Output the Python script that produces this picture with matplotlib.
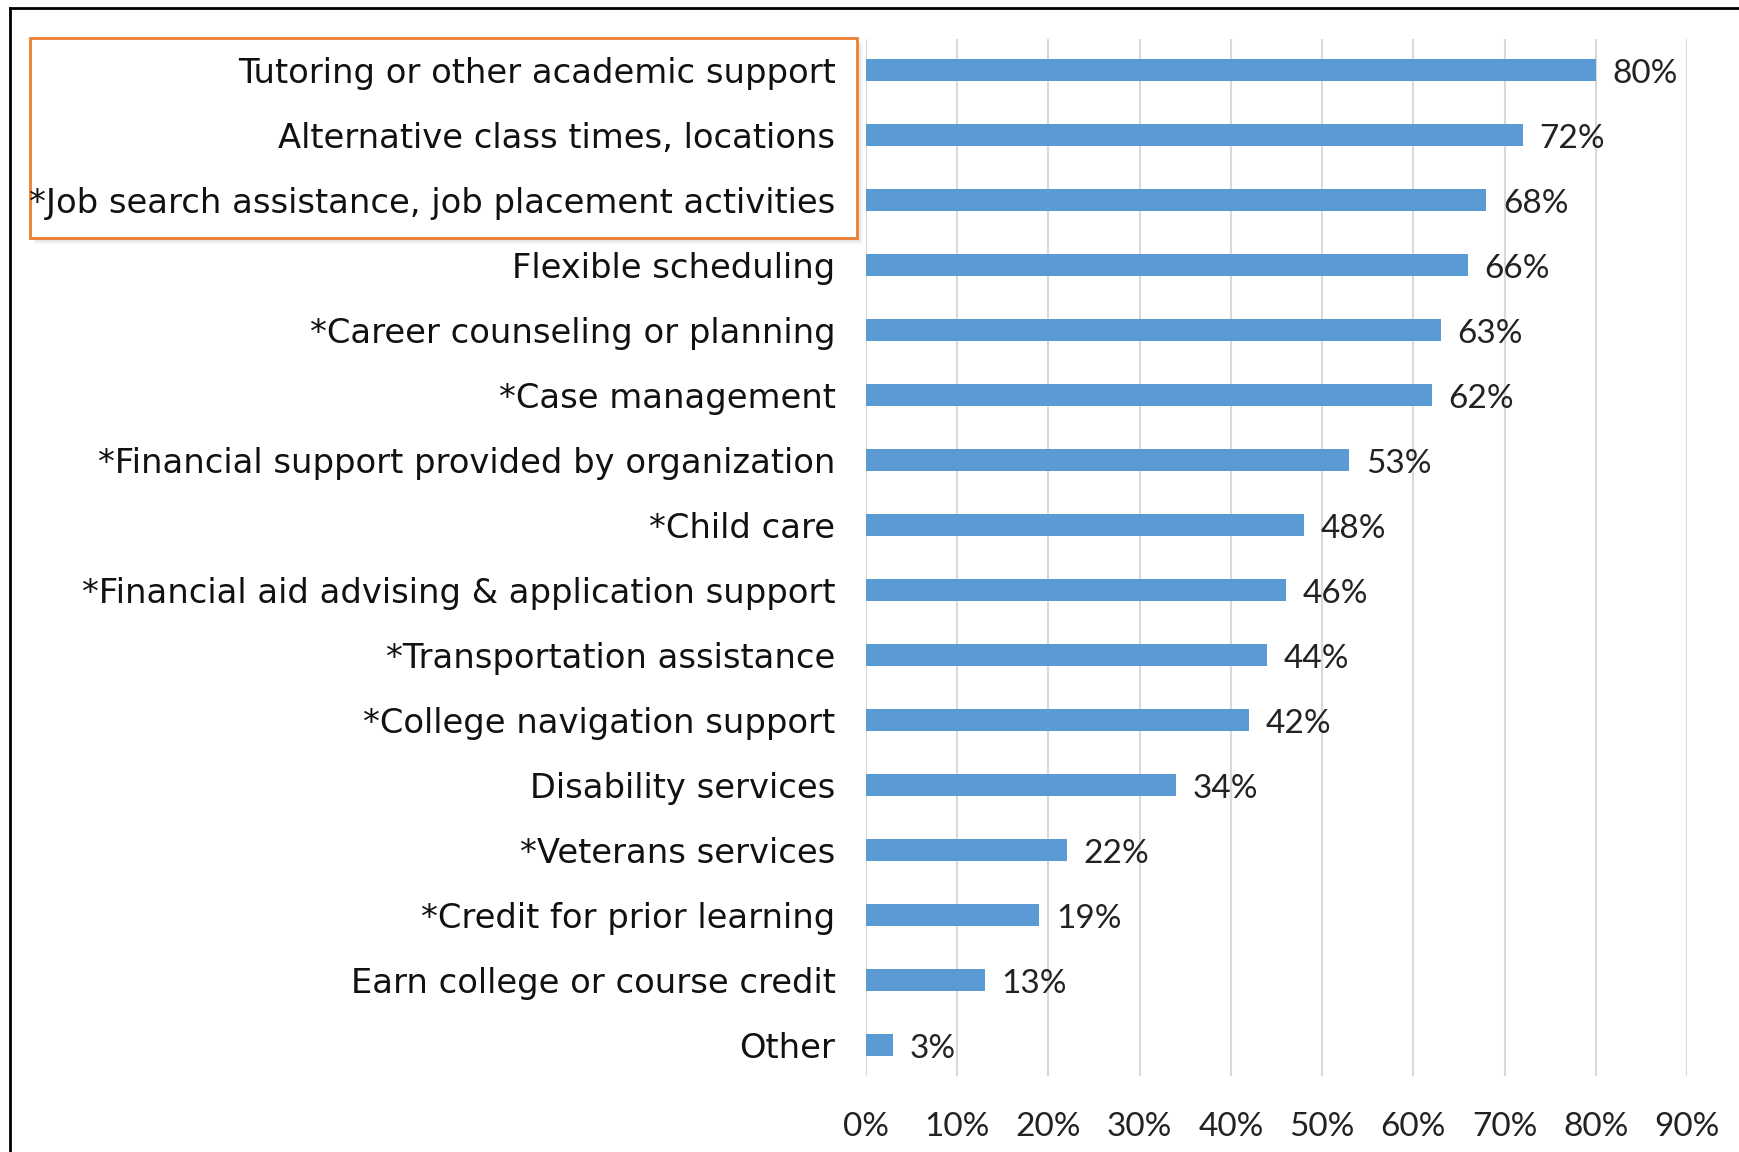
import matplotlib.pyplot as plt
from matplotlib.patches import Rectangle
from matplotlib.lines import Line2D
import numpy as np

plt.rcParams['font.family'] = ['Lato', 'DejaVu Sans']

# survey items, top to bottom
labels = [
    "Tutoring or other academic support",
    "Alternative class times, locations",
    "*Job search assistance, job placement activities",
    "Flexible scheduling",
    "*Career counseling or planning",
    "*Case management",
    "*Financial support provided by organization",
    "*Child care",
    "*Financial aid advising & application support",
    "*Transportation assistance",
    "*College navigation support",
    "Disability services",
    "*Veterans services",
    "*Credit for prior learning",
    "Earn college or course credit",
    "Other",
]
values = [80, 72, 68, 66, 63, 62, 53, 48, 46, 44, 42, 34, 22, 19, 13, 3]
ticks = [0, 10, 20, 30, 40, 50, 60, 70, 80, 90]

W, H = 1739, 1152
fig = plt.figure(figsize=(W / 100, H / 100), dpi=100)
ax = fig.add_axes([866 / W, 1 - 1076 / H, (1687 - 866) / W, (1076 - 39) / H])

y = np.arange(len(labels))
ax.barh(y, values, height=0.34, color='#5B9BD5', zorder=3)

for yi, v in zip(y, values):
    ax.annotate(f"{v}%", (v, yi), xytext=(12, -3), textcoords='offset points',
                va='center', ha='left', fontsize=24, color='#222222')

ax.set_xlim(0, 90)
ax.set_ylim(len(labels) - 1 + 0.477, -0.477)
ax.set_xticks(ticks)
ax.set_xticklabels([f"{t}%" for t in ticks], fontsize=24, color='#222222')
ax.set_yticks(y)
ax.set_yticklabels(labels, fontsize=24.3, color='#111111', family='DejaVu Sans')
ax.tick_params(axis='y', length=0, pad=22)
ax.tick_params(axis='x', length=0, pad=26)
ax.grid(axis='x', color='#D9D9D9', linewidth=1.5, zorder=0)
for s in ax.spines.values():
    s.set_visible(False)

# highlight box around the top three labels (with soft shadow)
bx0, by0, bx1, by1 = 30, 38, 857, 238
for off, a in [(6, 0.04), (4, 0.05), (2, 0.06)]:
    fig.patches.append(Rectangle((bx0 + off, H - by1 - off), bx1 - bx0, by1 - by0,
                                 transform=None, facecolor='#000000', alpha=a,
                                 edgecolor='none', zorder=-3))
fig.patches.append(Rectangle((bx0, H - by1), bx1 - bx0, by1 - by0,
                             transform=None, facecolor='white',
                             edgecolor='#ED7D31', linewidth=2, zorder=-2))

# partial outer frame: top and left edges
fig.lines.append(Line2D([10 / W, 1], [1 - 8 / H, 1 - 8 / H], transform=fig.transFigure,
                        color='black', linewidth=2))
fig.lines.append(Line2D([10 / W, 10 / W], [0, 1 - 8 / H], transform=fig.transFigure,
                        color='black', linewidth=2))

fig.savefig('out.png', dpi=100)
